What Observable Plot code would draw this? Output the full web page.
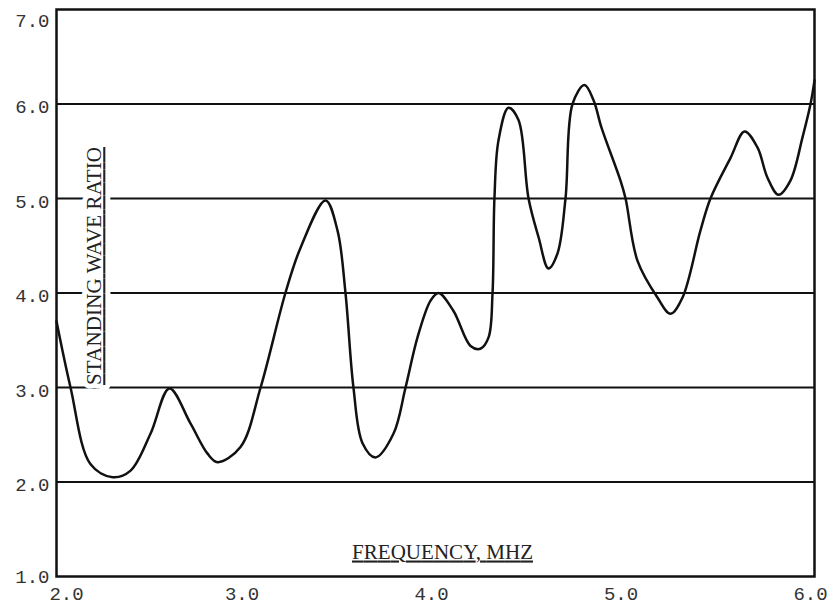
<!DOCTYPE html>
<html>
<head>
<meta charset="utf-8">
<script src="https://cdn.jsdelivr.net/npm/d3@7"></script>
<script src="https://cdn.jsdelivr.net/npm/@observablehq/plot@0.6"></script>
<style>
  html, body { margin: 0; padding: 0; background: #fff; }
</style>
</head>
<body>
<div id="chart"></div>
<script>
// Frequency (MHz) and standing wave ratio
const freq = [2.000, 2.074, 2.179, 2.296, 2.391, 2.496, 2.596, 2.707, 2.797, 2.850,
  2.971, 3.077, 3.208, 3.288, 3.420, 3.483, 3.525, 3.567, 3.615, 3.683,
  3.778, 3.842, 3.905, 3.974, 4.016, 4.095, 4.185, 4.237, 4.280, 4.301,
  4.311, 4.332, 4.385, 4.438, 4.491, 4.544, 4.596, 4.644, 4.686, 4.723,
  4.786, 4.834, 4.876, 4.976, 5.003, 5.066, 5.172, 5.240, 5.303, 5.398,
  5.451, 5.557, 5.631, 5.699, 5.752, 5.810, 5.873, 5.937, 5.979, 6.000];
const swr = [3.70, 3.00, 2.19, 2.05, 2.12, 2.51, 2.99, 2.62, 2.30, 2.21,
  2.37, 3.00, 4.00, 4.48, 4.98, 4.66, 4.00, 3.00, 2.41, 2.26,
  2.51, 3.00, 3.53, 3.92, 4.00, 3.81, 3.44, 3.41, 3.53, 4.00,
  5.00, 5.61, 5.96, 5.83, 5.00, 4.59, 4.26, 4.42, 5.00, 6.00,
  6.20, 6.04, 5.75, 5.19, 5.00, 4.34, 3.95, 3.78, 3.95, 4.66,
  5.00, 5.43, 5.71, 5.54, 5.22, 5.04, 5.19, 5.65, 6.00, 6.25];
const xTicksFirst = [2];
const xTicksRest = [3, 4, 5, 6];
const yTickTop = [7];
const yTicksMid = [2, 3, 4, 5, 6];
const yTickBottom = [1];
const gridY = [2, 3, 4, 5, 6];
const xTitle = "FREQUENCY, MHZ";
const yTitle = "STANDING WAVE RATIO";

const data = freq.map((f, i) => ({f, s: swr[i]}));
const fmt = d => d.toFixed(1);
const tickFont = {fontFamily: "'Liberation Mono', monospace", fontSize: 19, fill: "#333"};
const yTitleOpts = {
  frameAnchor: "left", textAnchor: "middle", dx: 38, dy: -27, rotate: -90,
  fontFamily: "'Liberation Serif', serif", fontSize: 21
};

const chart = Plot.plot({
  width: 835,
  height: 609,
  marginLeft: 56,
  marginRight: 21,
  marginTop: 9,
  marginBottom: 33,
  style: {fontFamily: "'Liberation Mono', monospace", fontSize: "19px", color: "#222", background: "#fff"},
  x: {domain: [2, 6], label: null},
  y: {domain: [1, 7], label: null},
  marks: [
    Plot.ruleY(gridY, {stroke: "#111", strokeWidth: 2}),
    Plot.text([yTitle], {...yTitleOpts, fill: "white", stroke: "white", strokeWidth: 10}),
    Plot.text([yTitle], {...yTitleOpts, fill: "#222"}),
    Plot.text([xTitle], {
      frameAnchor: "bottom", dx: 7, dy: -18, lineAnchor: "bottom",
      fontFamily: "'Liberation Serif', serif", fontSize: 21, fill: "#222"
    }),
    Plot.frame({stroke: "#111", strokeWidth: 2.5}),
    Plot.axisX(xTicksFirst, {tickSize: 0, tickPadding: 10, dx: 10, tickFormat: fmt, label: null, ...tickFont}),
    Plot.axisX(xTicksRest, {tickSize: 0, tickPadding: 10, dx: -4, tickFormat: fmt, label: null, ...tickFont}),
    Plot.axisY(yTickTop, {tickSize: 0, tickPadding: 7, dy: 11, tickFormat: fmt, label: null, ...tickFont}),
    Plot.axisY(yTicksMid, {tickSize: 0, tickPadding: 7, dy: 3, tickFormat: fmt, label: null, ...tickFont}),
    Plot.axisY(yTickBottom, {tickSize: 0, tickPadding: 7, dy: 0, tickFormat: fmt, label: null, ...tickFont}),
    Plot.line(data, {x: "f", y: "s", curve: "catmull-rom", stroke: "#111", strokeWidth: 2.5})
  ]
});

document.getElementById("chart").appendChild(chart);
d3.select(chart).selectAll("g[aria-label='text'] text")
  .style("text-decoration", "underline")
  .style("text-decoration-thickness", "2px")
  .style("text-underline-offset", "3px")
  .each(function () {
    const t = this.textContent;
    if (t === yTitle) this.setAttribute("textLength", 238);
    if (t === xTitle) this.setAttribute("textLength", 181);
  });
</script>
</body>
</html>
